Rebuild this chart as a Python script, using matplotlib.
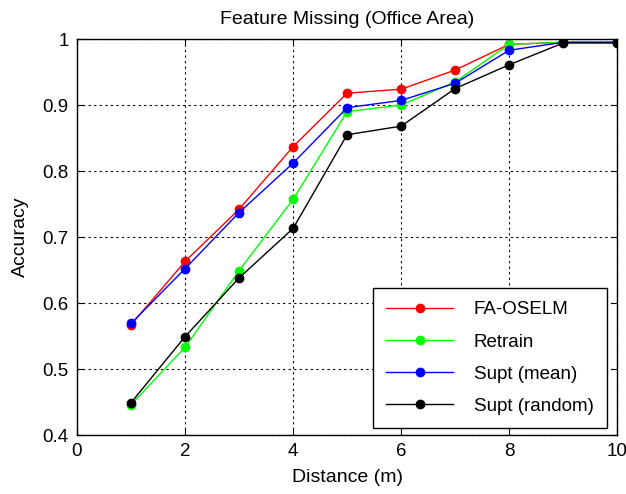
import matplotlib
matplotlib.use('Agg')
import matplotlib.pyplot as plt

plt.rcParams['font.family'] = ['Liberation Sans', 'DejaVu Sans']

distance = [1, 2, 3, 4, 5, 6, 7, 8, 9, 10]
fa_oselm = [0.567, 0.663, 0.742, 0.837, 0.918, 0.924, 0.953, 0.992, 0.995, 0.995]
retrain = [0.446, 0.533, 0.649, 0.757, 0.890, 0.900, 0.935, 0.992, 0.995, 0.995]
supt_mean = [0.569, 0.652, 0.737, 0.812, 0.896, 0.907, 0.933, 0.983, 0.995, 0.995]
supt_random = [0.449, 0.549, 0.638, 0.713, 0.855, 0.868, 0.925, 0.961, 0.994, 0.994]

fig = plt.figure(figsize=(6.26, 4.94), dpi=100)
ax = fig.add_axes([0.123, 0.1194, 0.863, 0.8016])

ax.plot(distance, fa_oselm, '-o', color='#ff0000', lw=1, ms=6, label='FA-OSELM')
ax.plot(distance, retrain, '-o', color='#00ff00', lw=1, ms=6, label='Retrain')
ax.plot(distance, supt_mean, '-o', color='#0000ff', lw=1, ms=6, label='Supt (mean)')
ax.plot(distance, supt_random, '-o', color='#000000', lw=1, ms=6, label='Supt (random)')

ax.set_xlim(0, 10)
ax.set_ylim(0.4, 1)
ax.set_xticks([0, 2, 4, 6, 8, 10])
ax.set_yticks([0.4, 0.5, 0.6, 0.7, 0.8, 0.9, 1])
ax.set_yticklabels(['0.4', '0.5', '0.6', '0.7', '0.8', '0.9', '1'])
ax.grid(True, linestyle=(0, (2, 3)), color='black', lw=0.8)
ax.tick_params(direction='in', top=True, right=True, labelsize=13.5, length=4)
ax.tick_params(axis='x', pad=6)
ax.tick_params(axis='y', pad=6)
for s in ax.spines.values():
    s.set_linewidth(1)

ax.set_xlabel('Distance (m)', fontsize=14, labelpad=6)
ax.set_ylabel('Accuracy', fontsize=14, labelpad=10)
ax.set_title('Feature Missing (Office Area)', fontsize=14, pad=11)

leg = ax.legend(loc='lower right', bbox_to_anchor=(0.981, 0.018), fontsize=13.5,
                fancybox=False, edgecolor='black', framealpha=1,
                handlelength=3.6, handletextpad=1.1, labelspacing=0.8,
                borderpad=0.7, borderaxespad=0)
leg.get_frame().set_linewidth(1)

fig.savefig('out.png', dpi=100)
